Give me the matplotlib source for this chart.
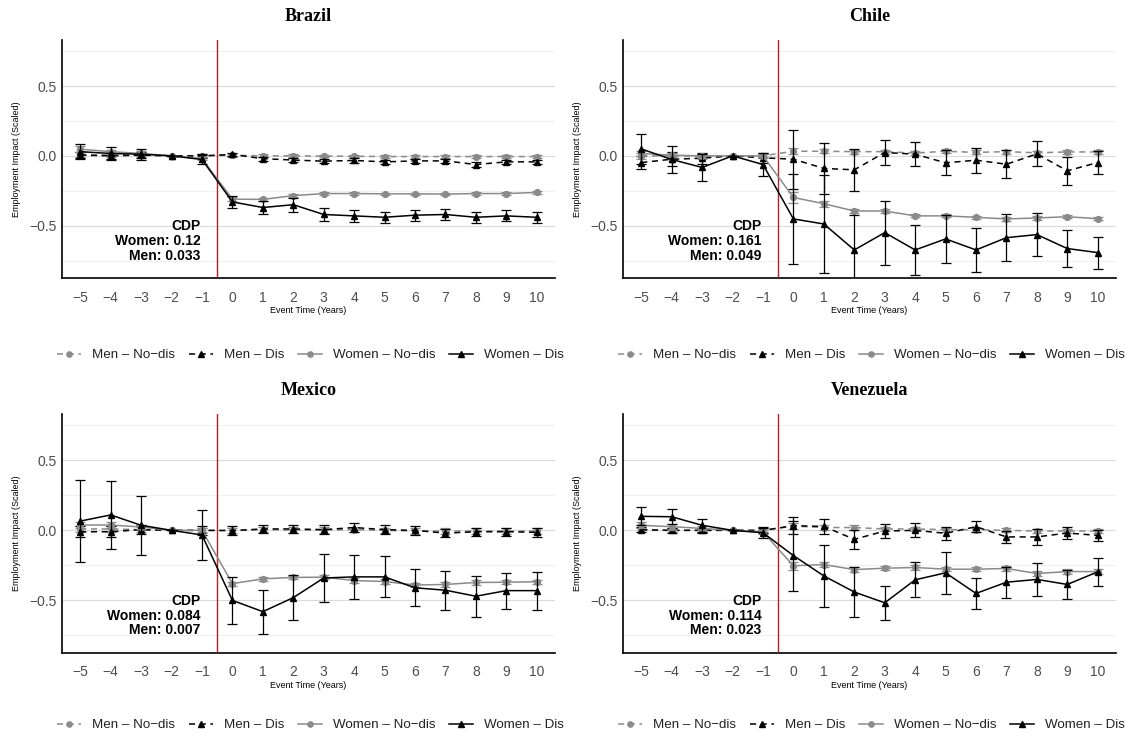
import matplotlib
matplotlib.use("Agg")
import matplotlib.pyplot as plt
from matplotlib.lines import Line2D
from matplotlib.ticker import FixedLocator, FuncFormatter

# ---------------- data ----------------
event_time = list(range(-5, 11))
countries = ["Brazil", "Chile", "Mexico", "Venezuela"]
series_labels = ["Men \u2013 No\u2212dis", "Men \u2013 Dis", "Women \u2013 No\u2212dis", "Women \u2013 Dis"]

cdp_women = ["0.12", "0.161", "0.084", "0.114"]
cdp_men = ["0.033", "0.049", "0.007", "0.023"]

# Brazil
bra_men_nodis = [0.01, 0.005, 0.005, 0.0, 0.0, 0.005, 0.0, 0.0, -0.002, -0.003, -0.005, -0.005, -0.005, -0.005, -0.005, -0.005]
bra_men_nodis_err = [0.015, 0.015, 0.012, 0.0, 0.01, 0.01, 0.01, 0.01, 0.008, 0.008, 0.008, 0.008, 0.008, 0.008, 0.008, 0.008]
bra_men_dis = [0.005, 0.0, 0.005, 0.0, 0.0, 0.01, -0.02, -0.03, -0.038, -0.033, -0.043, -0.036, -0.036, -0.062, -0.043, -0.043]
bra_men_dis_err = [0.02, 0.02, 0.02, 0.0, 0.015, 0.012, 0.015, 0.015, 0.015, 0.015, 0.015, 0.015, 0.015, 0.015, 0.015, 0.015]
bra_women_nodis = [0.048, 0.03, 0.017, 0.0, -0.02, -0.31, -0.312, -0.285, -0.27, -0.27, -0.272, -0.272, -0.274, -0.27, -0.27, -0.262]
bra_women_nodis_err = [0.02, 0.015, 0.015, 0.0, 0.01, 0.015, 0.01, 0.01, 0.008, 0.008, 0.008, 0.008, 0.008, 0.008, 0.008, 0.008]
bra_women_dis = [0.03, 0.017, 0.012, 0.0, -0.026, -0.33, -0.37, -0.35, -0.42, -0.43, -0.44, -0.425, -0.42, -0.44, -0.43, -0.44]
bra_women_dis_err = [0.055, 0.045, 0.04, 0.0, 0.03, 0.04, 0.05, 0.05, 0.045, 0.045, 0.04, 0.04, 0.04, 0.04, 0.04, 0.04]

# Chile
chl_men_nodis = [0.0, 0.0, -0.005, 0.0, 0.0, 0.033, 0.033, 0.03, 0.03, 0.02, 0.033, 0.025, 0.03, 0.022, 0.028, 0.028]
chl_men_nodis_err = [0.02, 0.02, 0.015, 0.0, 0.015, 0.02, 0.015, 0.015, 0.015, 0.015, 0.015, 0.015, 0.015, 0.015, 0.015, 0.015]
chl_men_dis = [-0.048, -0.024, -0.017, 0.0, -0.014, -0.024, -0.09, -0.10, 0.024, 0.012, -0.05, -0.031, -0.06, 0.014, -0.107, -0.048]
chl_men_dis_err = [0.045, 0.05, 0.04, 0.0, 0.035, 0.21, 0.18, 0.15, 0.09, 0.085, 0.09, 0.09, 0.10, 0.09, 0.10, 0.085]
chl_women_nodis = [0.017, 0.005, 0.0, 0.0, 0.0, -0.298, -0.343, -0.395, -0.395, -0.43, -0.43, -0.44, -0.452, -0.445, -0.436, -0.45]
chl_women_nodis_err = [0.02, 0.015, 0.015, 0.0, 0.01, 0.04, 0.02, 0.015, 0.015, 0.01, 0.01, 0.01, 0.015, 0.015, 0.01, 0.01]
chl_women_dis = [0.05, -0.026, -0.083, 0.0, -0.062, -0.452, -0.488, -0.674, -0.55, -0.674, -0.595, -0.674, -0.586, -0.564, -0.664, -0.693]
chl_women_dis_err = [0.105, 0.1, 0.095, 0.0, 0.085, 0.32, 0.35, 0.25, 0.23, 0.18, 0.17, 0.16, 0.17, 0.155, 0.135, 0.115]

# Mexico
mex_men_nodis = [0.01, 0.01, 0.005, 0.0, 0.0, 0.0, 0.005, 0.002, 0.002, 0.005, 0.0, -0.005, -0.005, -0.005, -0.005, -0.005]
mex_men_nodis_err = [0.02, 0.02, 0.02, 0.0, 0.02, 0.02, 0.02, 0.02, 0.02, 0.02, 0.02, 0.02, 0.02, 0.02, 0.02, 0.02]
mex_men_dis = [-0.01, -0.01, 0.005, 0.0, 0.0, -0.002, 0.01, 0.01, 0.005, 0.02, 0.005, 0.0, -0.02, -0.01, -0.01, -0.014]
mex_men_dis_err = [0.04, 0.04, 0.03, 0.0, 0.03, 0.03, 0.03, 0.03, 0.03, 0.03, 0.03, 0.03, 0.03, 0.03, 0.03, 0.03]
mex_women_nodis = [0.038, 0.038, 0.024, 0.0, 0.0, -0.38, -0.346, -0.336, -0.334, -0.358, -0.365, -0.39, -0.386, -0.372, -0.37, -0.367]
mex_women_nodis_err = [0.02, 0.02, 0.015, 0.0, 0.015, 0.015, 0.012, 0.012, 0.012, 0.015, 0.015, 0.015, 0.015, 0.015, 0.015, 0.015]
mex_women_dis = [0.066, 0.11, 0.036, 0.0, -0.033, -0.5, -0.58, -0.48, -0.34, -0.332, -0.332, -0.41, -0.427, -0.47, -0.43, -0.43]
mex_women_dis_err = [0.29, 0.245, 0.21, 0.0, 0.18, 0.165, 0.157, 0.16, 0.17, 0.155, 0.147, 0.133, 0.14, 0.147, 0.128, 0.135]

# Venezuela
ven_men_nodis = [0.0, 0.0, 0.0, 0.0, 0.0, 0.03, 0.02, 0.02, 0.01, 0.01, 0.005, 0.005, 0.0, -0.005, -0.005, -0.005]
ven_men_nodis_err = [0.015, 0.015, 0.015, 0.0, 0.015, 0.02, 0.015, 0.015, 0.015, 0.015, 0.015, 0.015, 0.015, 0.015, 0.015, 0.015]
ven_men_dis = [0.005, 0.0, 0.0, 0.0, 0.0, 0.033, 0.028, -0.064, -0.005, 0.0, -0.021, 0.026, -0.047, -0.047, -0.019, -0.036]
ven_men_dis_err = [0.02, 0.02, 0.02, 0.0, 0.02, 0.06, 0.055, 0.07, 0.05, 0.05, 0.045, 0.04, 0.045, 0.06, 0.04, 0.04]
ven_women_nodis = [0.036, 0.026, 0.014, 0.0, -0.012, -0.253, -0.244, -0.28, -0.27, -0.265, -0.277, -0.277, -0.272, -0.308, -0.294, -0.294]
ven_women_nodis_err = [0.02, 0.02, 0.015, 0.0, 0.015, 0.03, 0.02, 0.015, 0.015, 0.015, 0.015, 0.015, 0.015, 0.015, 0.015, 0.015]
ven_women_dis = [0.10, 0.097, 0.036, 0.0, -0.017, -0.18, -0.325, -0.44, -0.517, -0.353, -0.303, -0.45, -0.37, -0.35, -0.386, -0.296]
ven_women_dis_err = [0.065, 0.055, 0.045, 0.0, 0.04, 0.25, 0.22, 0.175, 0.12, 0.125, 0.15, 0.113, 0.11, 0.12, 0.105, 0.1]

panel_data = {
    "Brazil": [(bra_men_nodis, bra_men_nodis_err), (bra_men_dis, bra_men_dis_err),
               (bra_women_nodis, bra_women_nodis_err), (bra_women_dis, bra_women_dis_err)],
    "Chile": [(chl_men_nodis, chl_men_nodis_err), (chl_men_dis, chl_men_dis_err),
              (chl_women_nodis, chl_women_nodis_err), (chl_women_dis, chl_women_dis_err)],
    "Mexico": [(mex_men_nodis, mex_men_nodis_err), (mex_men_dis, mex_men_dis_err),
               (mex_women_nodis, mex_women_nodis_err), (mex_women_dis, mex_women_dis_err)],
    "Venezuela": [(ven_men_nodis, ven_men_nodis_err), (ven_men_dis, ven_men_dis_err),
                  (ven_women_nodis, ven_women_nodis_err), (ven_women_dis, ven_women_dis_err)],
}

# ---------------- styles ----------------
GRAY = "#8a8a8a"
styles = [
    dict(color=GRAY, marker="o", ls=(0, (4, 3)), ms=4.2),
    dict(color="black", marker="^", ls=(0, (4, 3)), ms=5.0),
    dict(color=GRAY, marker="o", ls="-", ms=4.2),
    dict(color="black", marker="^", ls="-", ms=5.0),
]

plt.rcParams["font.family"] = ["Liberation Sans", "DejaVu Sans"]

W, H = 1125, 736
fig = plt.figure(figsize=(W / 100, H / 100), dpi=100)

# axes boxes in pixel coordinates: (left, top, right, bottom)
boxes = {
    "Brazil": (62, 40, 555, 278),
    "Chile": (623, 40, 1116, 278),
    "Mexico": (62, 414, 555, 653),
    "Venezuela": (623, 414, 1116, 653),
}

fmt = FuncFormatter(lambda v, p: ("%.1f" % v).replace("-", "\u2212"))

for i, c in enumerate(countries):
    l, t, r, b = boxes[c]
    ax = fig.add_axes([l / W, 1 - b / H, (r - l) / W, (b - t) / H])
    ax.set_xlim(-5.6, 10.6)
    ax.set_ylim(-0.875, 0.83)
    for s in ["top", "right"]:
        ax.spines[s].set_visible(False)
    for s in ["left", "bottom"]:
        ax.spines[s].set_linewidth(1.2)
        ax.spines[s].set_color("black")
    ax.yaxis.set_major_locator(FixedLocator([-0.5, 0.0, 0.5]))
    ax.yaxis.set_minor_locator(FixedLocator([-0.75, -0.25, 0.25, 0.75]))
    ax.yaxis.set_major_formatter(fmt)
    ax.set_xticks(event_time)
    ax.set_xticklabels([str(v).replace("-", "\u2212") for v in event_time])
    ax.tick_params(axis="both", which="both", length=0, labelsize=10, labelcolor="#4d4d4d")
    ax.tick_params(axis="x", pad=9)
    ax.tick_params(axis="y", pad=4)
    ax.grid(axis="y", which="major", color="#dadada", lw=0.8)
    ax.grid(axis="y", which="minor", color="#eeeeee", lw=0.6)
    ax.set_axisbelow(True)

    ax.axvline(-0.5, color="#b22222", lw=1.0, zorder=5)

    for k, (vals, errs) in enumerate(panel_data[c]):
        st = styles[k]
        ax.errorbar(event_time, vals, yerr=errs, color=st["color"], ecolor=st["color"],
                    elinewidth=0.9, capsize=3.5, capthick=0.9, marker=st["marker"],
                    ms=st["ms"], ls=st["ls"], lw=1.1, zorder=3 + k)

    ax.text(-1.05, -0.61, "CDP\nWomen: %s\nMen: %s" % (cdp_women[i], cdp_men[i]),
            ha="right", va="center", ma="right", fontsize=10, fontweight="bold",
            linespacing=1.05, zorder=10)

    ax.set_title(c, fontfamily="Liberation Serif", fontweight="bold", fontsize=13, pad=14)
    ax.set_xlabel("Event Time (Years)", fontsize=6.5, labelpad=1)
    ax.set_ylabel("Employment Impact (Scaled)", fontsize=6.5, labelpad=6)

    handles = [Line2D([0], [0], color=st["color"], marker=st["marker"], ls=st["ls"],
                      lw=1.1, ms=st["ms"] * 0.9) for st in styles]
    cx = (l + r) / 2 / W + 2 / W
    cy = 1 - ((355 if t < 300 else 725) / H)
    fig.legend(handles, series_labels, loc="center", bbox_to_anchor=(cx, cy), ncol=4,
               frameon=False, fontsize=9.6, handlelength=1.8, columnspacing=1.05,
               handletextpad=0.8, labelcolor="#222222")

fig.savefig("out.png", dpi=100, facecolor="white")
